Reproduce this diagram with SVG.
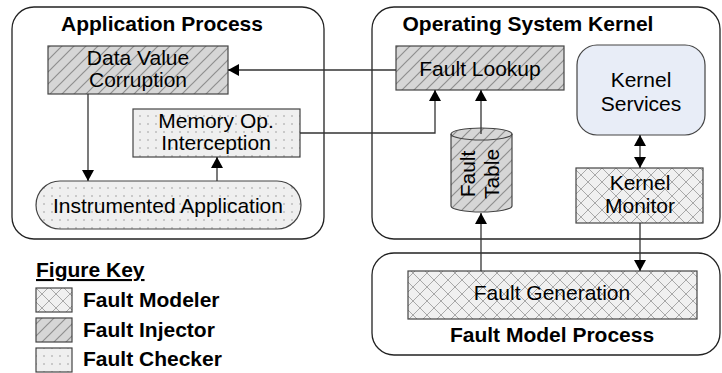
<svg xmlns="http://www.w3.org/2000/svg" width="722" height="373" viewBox="0 0 722 373">
<defs>
<pattern id="hatch" patternUnits="userSpaceOnUse" width="12" height="12">
<rect width="12" height="12" fill="#d6d6d6"/>
<path d="M-3,3 L3,-3 M0,12 L12,0 M9,15 L15,9" stroke="#8f8f8f" stroke-width="1.2"/>
</pattern>
<pattern id="cross" patternUnits="userSpaceOnUse" width="14" height="14">
<rect width="14" height="14" fill="#f0f0f0"/>
<path d="M0,0 L14,14 M0,14 L14,0" stroke="#a8a8a8" stroke-width="1"/>
</pattern>
<pattern id="dots" patternUnits="userSpaceOnUse" width="8" height="8">
<rect width="8" height="8" fill="#efefef"/>
<circle cx="4" cy="4" r="0.8" fill="#9a9a9a"/>
</pattern>
<marker id="arr" markerUnits="userSpaceOnUse" markerWidth="12" markerHeight="12" refX="11" refY="6" orient="auto-start-reverse">
<path d="M0,0 L11,6 L0,12 z" fill="#000"/>
</marker>
</defs>
<style>
.lbl{font-family:"Liberation Sans",Arial,sans-serif;font-size:21px;fill:#000;text-anchor:middle}
.ttl{font-family:"Liberation Sans",Arial,sans-serif;font-size:21px;font-weight:bold;fill:#000;text-anchor:middle}
.key{font-family:"Liberation Sans",Arial,sans-serif;font-size:21px;font-weight:bold;fill:#000}
.proc{fill:#fff;stroke:#222;stroke-width:1.3}
.box{stroke:#444;stroke-width:1.2}
.conn{fill:none;stroke:#333;stroke-width:1.3}
</style>
<g id="app-process">
<rect class="proc" x="12" y="7" width="312" height="232" rx="22"/>
<text class="ttl" x="162" y="31">Application Process</text>
</g>
<g id="os-kernel">
<rect class="proc" x="372" y="7" width="348" height="232" rx="22"/>
<text class="ttl" x="528" y="31">Operating System Kernel</text>
</g>
<g id="fault-model-process">
<rect class="proc" x="372" y="253" width="348" height="102" rx="22"/>
<text class="ttl" x="552" y="342">Fault Model Process</text>
</g>
<g id="data-value-corruption">
<rect class="box" x="48" y="46" width="180" height="48" fill="url(#hatch)"/>
<text class="lbl" x="138" y="65">Data Value</text>
<text class="lbl" x="138" y="87">Corruption</text>
</g>
<g id="memory-op">
<rect class="box" x="133" y="109" width="167" height="48" fill="url(#dots)"/>
<text class="lbl" x="216" y="128">Memory Op.</text>
<text class="lbl" x="216" y="150">Interception</text>
</g>
<g id="instrumented-app">
<rect class="box" x="36" y="181" width="265" height="48" rx="24" fill="url(#dots)"/>
<text class="lbl" x="168" y="213">Instrumented Application</text>
</g>
<g id="fault-lookup">
<rect class="box" x="396" y="46" width="168" height="44" fill="url(#hatch)"/>
<text class="lbl" x="480" y="76">Fault Lookup</text>
</g>
<g id="fault-table">
<path class="box" d="M451,134 A30.5,6 0 0 1 512,134 L512,206 A30.5,6 0 0 1 451,206 Z" fill="url(#hatch)"/>
<path class="box" d="M451,134 A30.5,6 0 0 0 512,134" fill="none"/>
<text class="lbl" transform="translate(475,174) rotate(-90)">Fault</text>
<text class="lbl" transform="translate(499,174) rotate(-90)">Table</text>
</g>
<g id="kernel-services">
<rect class="box" x="577" y="45" width="128" height="90" rx="20" fill="#e8edf7"/>
<text class="lbl" x="641" y="87">Kernel</text>
<text class="lbl" x="641" y="111">Services</text>
</g>
<g id="kernel-monitor">
<rect class="box" x="576" y="168" width="127" height="55" fill="url(#cross)"/>
<text class="lbl" x="640" y="190">Kernel</text>
<text class="lbl" x="640" y="213">Monitor</text>
</g>
<g id="fault-generation">
<rect class="box" x="408" y="271" width="289" height="48" fill="url(#cross)"/>
<text class="lbl" x="552" y="300">Fault Generation</text>
</g>
<g id="figure-key">
<text class="key" x="36" y="277" text-decoration="underline">Figure Key</text>
<rect class="box" x="36" y="288" width="36" height="24" fill="url(#cross)"/>
<text class="key" x="83" y="307">Fault Modeler</text>
<rect class="box" x="36" y="318" width="36" height="24" fill="url(#hatch)"/>
<text class="key" x="83" y="337">Fault Injector</text>
<rect class="box" x="36" y="348" width="36" height="24" fill="url(#dots)"/>
<text class="key" x="83" y="366">Fault Checker</text>
</g>
<g id="connectors">
<path class="conn" d="M88,94 L88,181" marker-end="url(#arr)"/>
<path class="conn" d="M217,181 L217,157" marker-end="url(#arr)"/>
<path class="conn" d="M396,70 L228,70" marker-end="url(#arr)"/>
<path class="conn" d="M300,133 L435,133 L435,90" marker-end="url(#arr)"/>
<path class="conn" d="M481,134 L481,90" marker-end="url(#arr)"/>
<path class="conn" d="M481,271 L481,213" marker-end="url(#arr)"/>
<path class="conn" d="M640,135 L640,168" marker-start="url(#arr)" marker-end="url(#arr)"/>
<path class="conn" d="M640,223 L640,271" marker-end="url(#arr)"/>
</g>
</svg>
